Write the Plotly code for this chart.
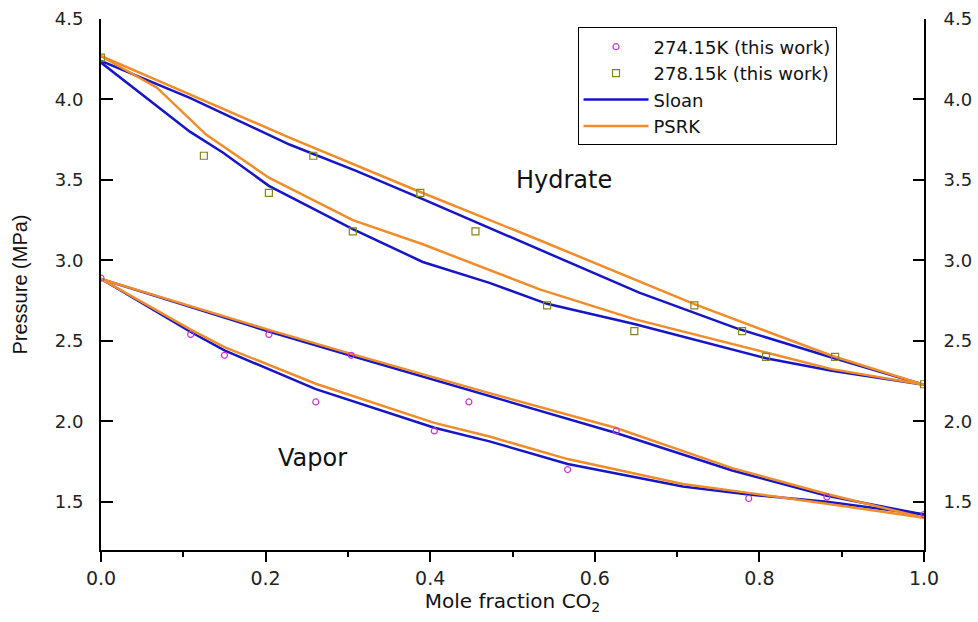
import plotly.graph_objects as go

# Experimental points
x_274 = [0.0, 0.109, 0.150, 0.204, 0.261, 0.304, 0.405, 0.447, 0.567, 0.626, 0.787, 0.882, 1.0]
p_274 = [2.89, 2.54, 2.41, 2.54, 2.12, 2.41, 1.94, 2.12, 1.70, 1.94, 1.52, 1.53, 1.42]

x_278 = [0.0, 0.125, 0.204, 0.258, 0.306, 0.388, 0.455, 0.542, 0.648, 0.721, 0.779, 0.808, 0.892, 1.0]
p_278 = [4.26, 3.65, 3.42, 3.65, 3.18, 3.42, 3.18, 2.72, 2.56, 2.72, 2.56, 2.40, 2.40, 2.23]

# Sloan model curves
sloan_hyd_up_x = [0.0, 0.108, 0.229, 0.31, 0.391, 0.533, 0.654, 0.775, 0.888, 1.0]
sloan_hyd_up_p = [4.24, 4.01, 3.72, 3.556, 3.38, 3.065, 2.80, 2.573, 2.396, 2.227]
sloan_hyd_lo_x = [0.0, 0.108, 0.148, 0.204, 0.306, 0.391, 0.472, 0.542, 0.648, 0.808, 0.888, 1.0]
sloan_hyd_lo_p = [4.229, 3.80, 3.67, 3.463, 3.194, 2.99, 2.86, 2.73, 2.604, 2.392, 2.314, 2.227]
sloan_vap_up_x = [0.0, 0.204, 0.304, 0.472, 0.626, 0.767, 0.882, 1.0]
sloan_vap_up_p = [2.885, 2.558, 2.407, 2.158, 1.927, 1.694, 1.537, 1.42]
sloan_vap_lo_x = [0.0, 0.108, 0.150, 0.261, 0.405, 0.472, 0.567, 0.707, 0.787, 0.882, 1.0]
sloan_vap_lo_p = [2.885, 2.558, 2.44, 2.20, 1.96, 1.875, 1.735, 1.595, 1.545, 1.50, 1.42]

# PSRK model curves
psrk_hyd_up_x = [0.0, 0.229, 0.388, 0.533, 0.721, 0.888, 1.0]
psrk_hyd_up_p = [4.27, 3.763, 3.425, 3.125, 2.728, 2.407, 2.227]
psrk_hyd_lo_x = [0.0, 0.068, 0.128, 0.204, 0.306, 0.391, 0.533, 0.648, 0.808, 0.888, 1.0]
psrk_hyd_lo_p = [4.27, 4.073, 3.78, 3.514, 3.25, 3.10, 2.82, 2.635, 2.427, 2.324, 2.227]
psrk_vap_up_x = [0.0, 0.204, 0.304, 0.472, 0.626, 0.767, 0.882, 1.0]
psrk_vap_up_p = [2.885, 2.568, 2.419, 2.175, 1.958, 1.709, 1.548, 1.40]
psrk_vap_lo_x = [0.0, 0.108, 0.150, 0.261, 0.405, 0.472, 0.567, 0.707, 0.787, 0.882, 1.0]
psrk_vap_lo_p = [2.885, 2.573, 2.461, 2.233, 1.99, 1.905, 1.765, 1.61, 1.555, 1.488, 1.40]

BLUE = "#1616C4"
ORANGE = "#F08C2A"
MAGENTA = "#CC33CC"
OLIVE = "#85851A"
WIDE = "DejaVu Sans, Verdana, sans-serif"
ARIAL = "Liberation Sans, Arial, sans-serif"

fig = go.Figure()

sloan = [(sloan_hyd_up_x, sloan_hyd_up_p), (sloan_hyd_lo_x, sloan_hyd_lo_p),
         (sloan_vap_up_x, sloan_vap_up_p), (sloan_vap_lo_x, sloan_vap_lo_p)]
psrk = [(psrk_hyd_up_x, psrk_hyd_up_p), (psrk_hyd_lo_x, psrk_hyd_lo_p),
        (psrk_vap_up_x, psrk_vap_up_p), (psrk_vap_lo_x, psrk_vap_lo_p)]

for i, (xs, ps) in enumerate(sloan):
    fig.add_trace(go.Scatter(x=xs, y=ps, mode="lines", name="Sloan",
                             legendgroup="sloan", showlegend=(i == 0), legendrank=3,
                             line=dict(color=BLUE, width=2.5)))
for i, (xs, ps) in enumerate(psrk):
    fig.add_trace(go.Scatter(x=xs, y=ps, mode="lines", name="PSRK",
                             legendgroup="psrk", showlegend=(i == 0), legendrank=4,
                             line=dict(color=ORANGE, width=2.5)))

fig.add_trace(go.Scatter(x=x_274, y=p_274, mode="markers", name="274.15K (this work)",
                         legendrank=1,
                         marker=dict(symbol="circle-open", size=6, color=MAGENTA,
                                     line=dict(color=MAGENTA, width=1.2))))
fig.add_trace(go.Scatter(x=x_278, y=p_278, mode="markers", name="278.15k (this work)",
                         legendrank=2,
                         marker=dict(symbol="square-open", size=7, color=OLIVE,
                                     line=dict(color=OLIVE, width=1.2))))

# empty trace so the right-hand pressure axis is drawn
fig.add_trace(go.Scatter(x=[], y=[], yaxis="y2", showlegend=False, hoverinfo="skip"))

fig.add_annotation(x=0.563, y=3.5, text="Hydrate", showarrow=False,
                   font=dict(family=WIDE, size=24, color="#111111"))
fig.add_annotation(x=0.257, y=1.773, text="Vapor", showarrow=False,
                   font=dict(family=WIDE, size=24, color="#111111"))

fig.update_layout(
    width=978, height=622,
    margin=dict(l=101, r=54, t=19, b=72, autoexpand=False),
    plot_bgcolor="white", paper_bgcolor="white",
    showlegend=True,
    legend=dict(x=0.579, y=0.984, xanchor="left", yanchor="top",
                bordercolor="black", borderwidth=1, bgcolor="white",
                font=dict(family=WIDE, size=18, color="#111111"),
                tracegroupgap=0, itemwidth=65),
    xaxis=dict(range=[0, 1.0], dtick=0.2, tickformat=".1f", automargin=False,
               showline=True, linecolor="black", linewidth=2,
               ticks="outside", ticklen=10, tickwidth=2, tickcolor="black",
               minor=dict(dtick=0.1, ticks="outside", ticklen=5, tickwidth=2, tickcolor="black"),
               showgrid=False, zeroline=False,
               tickfont=dict(family=WIDE, size=19, color="#222222"),
               title=dict(text="Mole fraction CO<sub>2</sub>",
                          font=dict(family=WIDE, size=20, color="#111111"), standoff=6)),
    yaxis=dict(range=[1.2, 4.5], dtick=0.5, tickformat=".1f", automargin=False,
               showline=True, linecolor="black", linewidth=2,
               ticks="inside", ticklen=12, tickwidth=2, tickcolor="black",
               showgrid=False, zeroline=False, ticklabelstandoff=12,
               tickfont=dict(family=WIDE, size=18, color="#222222"),
               title=dict(text="Pressure (MPa)",
                          font=dict(family=ARIAL, size=20, color="#111111"), standoff=22)),
    yaxis2=dict(range=[1.2, 4.5], dtick=0.5, tickformat=".1f", overlaying="y", side="right",
                automargin=False,
                showline=True, linecolor="black", linewidth=2,
                ticks="inside", ticklen=11, tickwidth=2, tickcolor="black",
                showgrid=False, zeroline=False, ticklabelstandoff=14,
                tickfont=dict(family=WIDE, size=18, color="#222222")),
)

fig.write_html("out.html")
